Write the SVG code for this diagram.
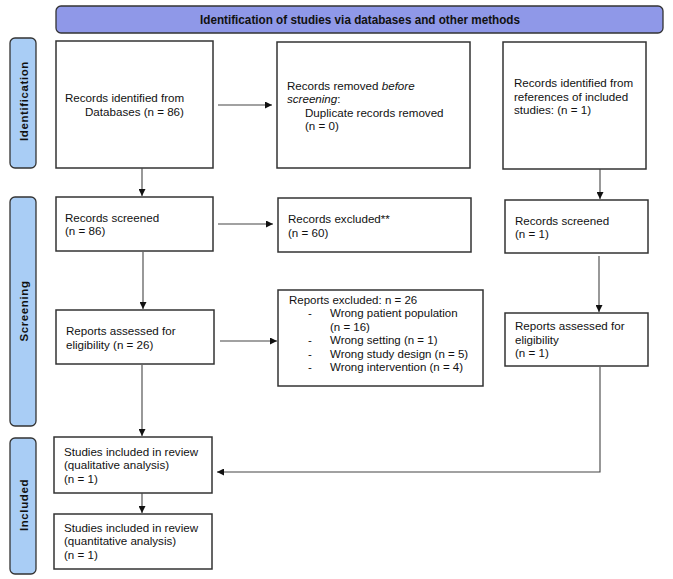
<svg xmlns="http://www.w3.org/2000/svg" width="673" height="579" viewBox="0 0 673 579">
<style>
.box{fill:#fff;stroke:#333;stroke-width:1.5}
.side{fill:#a9cdf5;stroke:#333;stroke-width:1.3}
.t{font-family:"Liberation Sans",Arial,sans-serif;font-size:11.6px;fill:#111}
.r{font-size:11.5px}
.st{font-family:"Liberation Sans",Arial,sans-serif;font-size:11.5px;font-weight:bold;fill:#111;letter-spacing:0.6px}
.c{fill:none;stroke:#444;stroke-width:1.1}
</style>
<defs>
<marker id="ah" viewBox="0 0 10 10" refX="10" refY="5" markerWidth="7" markerHeight="7" markerUnits="userSpaceOnUse" orient="auto"><path d="M0,0 L10,5 L0,10 z" fill="#111"/></marker>
</defs>
<rect width="673" height="579" fill="#fff"/>
<g id="title">
<rect x="56" y="6" width="607" height="27" rx="5" fill="#8f98e8" stroke="#333" stroke-width="1.3"/>
<text x="360" y="24" text-anchor="middle" class="t" style="font-weight:bold;font-size:12px" textLength="320" lengthAdjust="spacingAndGlyphs">Identification of studies via databases and other methods</text>
</g>
<g id="side-identification">
<rect x="10" y="38" width="26" height="130" rx="5" class="side"/>
<text transform="translate(28,101) rotate(-90)" text-anchor="middle" class="st">Identification</text>
</g>
<g id="side-screening">
<rect x="10" y="197" width="26" height="229" rx="5" class="side"/>
<text transform="translate(28,311) rotate(-90)" text-anchor="middle" class="st">Screening</text>
</g>
<g id="side-included">
<rect x="10" y="438" width="26" height="136" rx="5" class="side"/>
<text transform="translate(28,505) rotate(-90)" text-anchor="middle" class="st">Included</text>
</g>
<g id="records-databases">
<rect x="56" y="41" width="157" height="127" class="box"/>
<text class="t" x="65" y="102">Records identified from</text>
<text class="t" x="85" y="116">Databases (n = 86)</text>
</g>
<g id="records-removed">
<rect x="277" y="42" width="193" height="126" class="box"/>
<text class="t" x="287" y="90">Records removed <tspan font-style="italic">before</tspan></text>
<text class="t" x="287" y="103"><tspan font-style="italic">screening</tspan>:</text>
<text class="t" x="305" y="117">Duplicate records removed</text>
<text class="t" x="305" y="130">(n = 0)</text>
</g>
<g id="records-references">
<rect x="503" y="42" width="143" height="127" class="box"/>
<text class="t" x="514" y="87">Records identified from</text>
<text class="t" x="514" y="101">references of included</text>
<text class="t" x="514" y="114">studies: (n = 1)</text>
</g>
<g id="records-screened">
<rect x="56" y="197" width="157" height="54" class="box"/>
<text class="t" x="65" y="222">Records screened</text>
<text class="t" x="65" y="235">(n = 86)</text>
</g>
<g id="records-excluded">
<rect x="278" y="198" width="193" height="54" class="box"/>
<text class="t" x="288" y="223">Records excluded**</text>
<text class="t" x="288" y="237">(n = 60)</text>
</g>
<g id="records-screened-2">
<rect x="505" y="200" width="143" height="53" class="box"/>
<text class="t" x="515" y="225">Records screened</text>
<text class="t" x="515" y="238">(n = 1)</text>
</g>
<g id="reports-assessed">
<rect x="56" y="310" width="158" height="54" class="box"/>
<text class="t" x="66" y="335">Reports assessed for</text>
<text class="t" x="66" y="349">eligibility (n = 26)</text>
</g>
<g id="reports-excluded">
<rect x="278" y="290" width="205" height="96" class="box"/>
<text class="t r" x="289" y="304">Reports excluded: n = 26</text>
<text class="t r" x="308" y="317">-</text>
<text class="t r" x="330" y="317">Wrong patient population</text>
<text class="t r" x="330" y="330.5">(n = 16)</text>
<text class="t r" x="308" y="344">-</text>
<text class="t r" x="330" y="344">Wrong setting (n = 1)</text>
<text class="t r" x="308" y="357.5">-</text>
<text class="t r" x="330" y="357.5">Wrong study design (n = 5)</text>
<text class="t r" x="308" y="371">-</text>
<text class="t r" x="330" y="371">Wrong intervention (n = 4)</text>
</g>
<g id="reports-assessed-2">
<rect x="505" y="313" width="143" height="53" class="box"/>
<text class="t" x="515" y="330">Reports assessed for</text>
<text class="t" x="515" y="344">eligibility</text>
<text class="t" x="515" y="357">(n = 1)</text>
</g>
<g id="studies-qualitative">
<rect x="54" y="437" width="158" height="56" class="box"/>
<text class="t" x="64" y="456">Studies included in review</text>
<text class="t" x="64" y="469">(qualitative analysis)</text>
<text class="t" x="64" y="483">(n = 1)</text>
</g>
<g id="studies-quantitative">
<rect x="54" y="514" width="158" height="55" class="box"/>
<text class="t" x="64" y="532">Studies included in review</text>
<text class="t" x="64" y="545">(quantitative analysis)</text>
<text class="t" x="64" y="559">(n = 1)</text>
</g>
<g id="connectors">
<line class="c" x1="218" y1="105" x2="272" y2="105" marker-end="url(#ah)"/>
<line class="c" x1="142" y1="168" x2="142" y2="196" marker-end="url(#ah)"/>
<line class="c" x1="600" y1="169" x2="600" y2="199" marker-end="url(#ah)"/>
<line class="c" x1="218" y1="224" x2="273" y2="224" marker-end="url(#ah)"/>
<line class="c" x1="143" y1="252" x2="143" y2="309" marker-end="url(#ah)"/>
<line class="c" x1="599" y1="256" x2="599" y2="312" marker-end="url(#ah)"/>
<line class="c" x1="220" y1="341" x2="277" y2="341" marker-end="url(#ah)"/>
<line class="c" x1="142" y1="365" x2="142" y2="436" marker-end="url(#ah)"/>
<polyline class="c" points="600,367 600,472 217,472" marker-end="url(#ah)"/>
<line class="c" x1="142" y1="493" x2="142" y2="513" marker-end="url(#ah)"/>
</g>
</svg>
